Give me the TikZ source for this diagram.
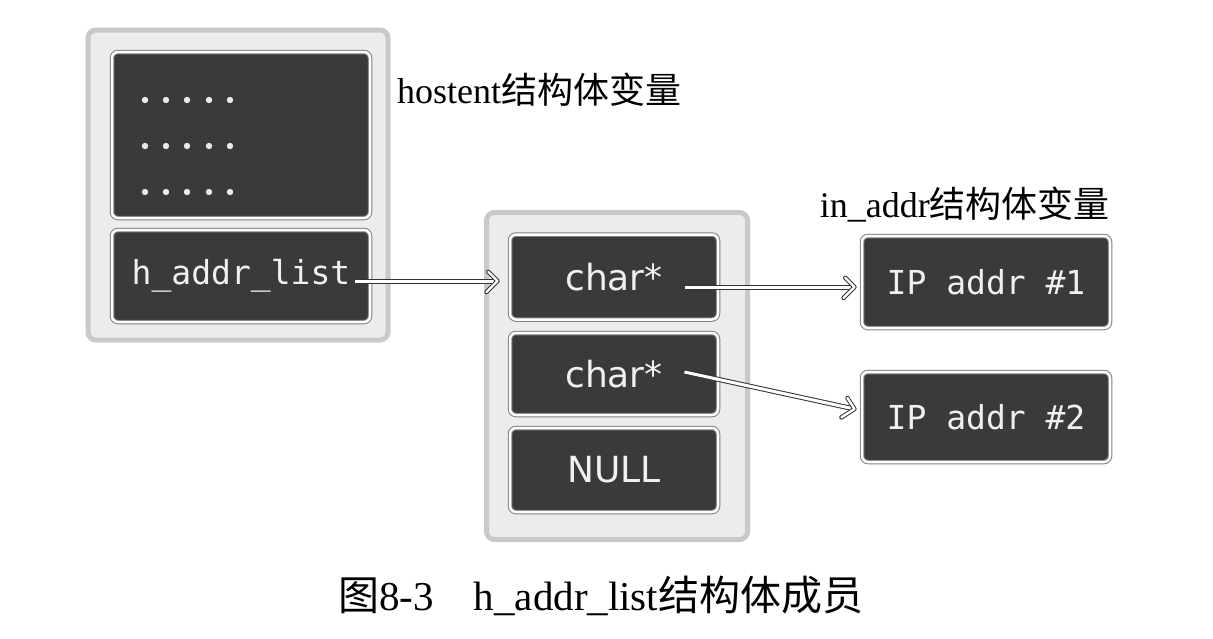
\documentclass[tikz,border=0pt]{standalone}
\usepackage{fontspec}
\setmainfont{Liberation Serif}
\newfontfamily\cjk{Noto Sans CJK SC}
\newfontfamily\monof{DejaVu Sans Mono}
\newfontfamily\sansf{DejaVu Sans}
\usetikzlibrary{arrows.meta,calc,decorations.markings}
\definecolor{darkbox}{HTML}{3A3A3A}
\definecolor{outerbox}{HTML}{DCDCDC}
\begin{document}
\begin{tikzpicture}[x=1pt,y=-1pt,
  outer/.style={draw=outerbox!80!gray, line width=5pt, fill=outerbox!55, rounded corners=8pt, inner sep=0pt},
  cell/.style={draw=gray, double=white, double distance=2.5pt, line width=1pt, fill=darkbox, rounded corners=6pt,
     text=white!94!black, inner sep=0pt},
  dbl/.style={draw=black!80, double=white, double distance=3pt, line width=1pt},
  ptr/.style={dbl, shorten >=2.5pt,
     postaction={decorate, decoration={markings, mark=at position 1 with {
       \draw[dbl, double distance=2.4pt, line join=round, line cap=round] (-11pt,-11pt) -- (0,0) -- (-11pt,11pt);}}}},
  lbl/.style={inner sep=0pt, font=\fontsize{36}{40}\selectfont}
]
\useasboundingbox (0,0) rectangle (1213,638);
\fill[white] (0,0) rectangle (1213,638);

% left structure
\node[outer, minimum width=300pt, minimum height=310pt] (hostent) at (238,185) {};
\node[cell, minimum width=258pt, minimum height=166pt] (top) at (241,135) {};
\node[cell, minimum width=258pt, minimum height=92pt, font=\monof\fontsize{33}{36}\selectfont] (hal) at (241,276) {h\_addr\_list};
\foreach \y in {100,146,192}
  \foreach \x in {145,166,187,209,230}
    \fill[white!92!black] (\x,\y) circle (3.2pt);

\node[lbl, anchor=west] (hlabel) at (397,90) {hostent{\cjk 结构体变量}};

% middle array
\node[outer, minimum width=261pt, minimum height=327pt] (arr) at (617,376) {};
\node[cell, minimum width=208pt, minimum height=85pt, font=\sansf\fontsize{36}{40}\selectfont] (c1) at (614,277) {char*};
\node[cell, minimum width=208pt, minimum height=82pt, font=\sansf\fontsize{36}{40}\selectfont] (c2) at (614,374) {char*};
\node[cell, minimum width=208pt, minimum height=84pt, font=\sansf\fontsize{36}{40}\selectfont] (nul) at (614,470) {NULL};

% right in_addr
\node[lbl, anchor=east] (ilabel) at (1110,205) {in\_addr{\cjk 结构体变量}};
\node[cell, minimum width=248pt, minimum height=92pt, font=\monof\fontsize{33}{36}\selectfont] (ip1) at (986,282) {IP addr \#1};
\node[cell, minimum width=248pt, minimum height=90pt, font=\monof\fontsize{33}{36}\selectfont] (ip2) at (986,417) {IP addr \#2};

% pointers
\coordinate (s1) at ($(hal.east)+(-16,5)$);
\coordinate (e1) at ($(c1.west)+(-12,4)$);
\draw[ptr] (s1) -- (e1);
\coordinate (s2) at ($(c1.east)+(-34,10)$);
\coordinate (e2) at ($(ip1.west)+(-7,5)$);
\draw[ptr] (s2) -- (e2);
\coordinate (s3) at ($(c2.east)+(-34,-2)$);
\coordinate (e3) at ($(ip2.west)+(-7,-8)$);
\draw[ptr] (s3) -- (e3);

% caption
\node[inner sep=0pt, anchor=west, font=\fontsize{41}{44}\selectfont] (cap) at (338,596) {{\cjk 图}8-3\hspace{40pt}h\_addr\_list{\cjk 结构体成员}};
\end{tikzpicture}
\end{document}
